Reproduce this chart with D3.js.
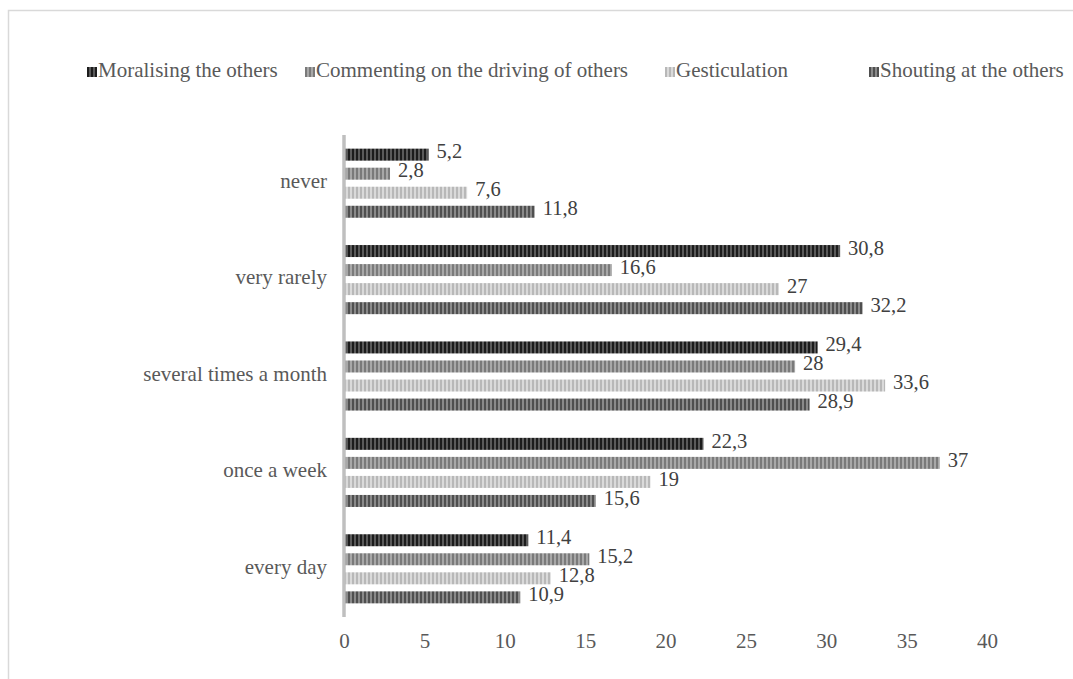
<!DOCTYPE html>
<html>
<head>
<meta charset="utf-8">
<script src="https://cdn.jsdelivr.net/npm/d3@7"></script>
<style>
  html, body { margin: 0; padding: 0; background: #fff; }
  svg { display: block; font-family: "Liberation Serif", "Times New Roman", serif; }
</style>
</head>
<body>
<svg id="chart" width="1073" height="679"></svg>
<script>
// Frequency categories, top to bottom
const categories = ["never", "very rarely", "several times a month", "once a week", "every day"];

// Series names (legend order)
const seriesNames = [
  "Moralising the others",
  "Commenting on the driving of others",
  "Gesticulation",
  "Shouting at the others"
];

// Percentages per category, one array per series
const moralising = [5.2, 30.8, 29.4, 22.3, 11.4];
const commenting = [2.8, 16.6, 28, 37, 15.2];
const gesticulation = [7.6, 27, 33.6, 19, 12.8];
const shouting = [11.8, 32.2, 28.9, 15.6, 10.9];

const xTicks = [0, 5, 10, 15, 20, 25, 30, 35, 40];

const seriesValues = [moralising, commenting, gesticulation, shouting];

// Striped fills: [stripe colour, background colour]
const stripeColors = [
  ["#1c1c1c", "#5a5a5a"],
  ["#7a7a7a", "#a8a8a8"],
  ["#b8b8b8", "#dadada"],
  ["#4f4f4f", "#8a8a8a"]
];

const svg = d3.select("#chart");

// outer chart-area border
svg.append("rect")
  .attr("x", 8.5).attr("y", 10.5)
  .attr("width", 1200).attr("height", 800)
  .attr("fill", "none").attr("stroke", "#d9d9d9").attr("stroke-width", 1.5);

const defs = svg.append("defs");
stripeColors.forEach((c, i) => {
  const p = defs.append("pattern")
    .attr("id", "stripe" + i)
    .attr("patternUnits", "userSpaceOnUse")
    .attr("width", 4).attr("height", 4);
  p.append("rect").attr("width", 4).attr("height", 4).attr("fill", c[1]);
  p.append("rect").attr("width", 2).attr("height", 4).attr("fill", c[0]);
});

const x = d3.scaleLinear().domain([0, 40]).range([344, 987]);
const y = d3.scaleBand().domain(categories).range([135, 617])
  .paddingInner(0.21).paddingOuter(0.105);
const ySub = d3.scaleBand().domain(d3.range(seriesNames.length))
  .range([0, y.bandwidth()]).paddingInner(0.37).paddingOuter(0.185);

const labelSize = 20.5;
const axisSize = 21;

// bars
const groups = svg.append("g").selectAll("g")
  .data(categories)
  .join("g")
  .attr("transform", d => `translate(0,${y(d)})`);

groups.each(function(cat, ci) {
  const g = d3.select(this);
  seriesValues.forEach((vals, si) => {
    const v = vals[ci];
    g.append("rect")
      .attr("x", x(0) + 1)
      .attr("y", ySub(si))
      .attr("width", x(v) - x(0))
      .attr("height", ySub.bandwidth())
      .attr("fill", `url(#stripe${si})`);
    g.append("text")
      .attr("x", x(v) + 9)
      .attr("y", ySub(si) + ySub.bandwidth() / 2 - 1)
      .attr("dominant-baseline", "middle")
      .attr("font-size", labelSize)
      .attr("fill", "#404040")
      .text(String(v).replace(".", ","));
  });
});

// category axis line
svg.append("line")
  .attr("x1", x(0)).attr("x2", x(0))
  .attr("y1", 135).attr("y2", 617)
  .attr("stroke", "#bfbfbf").attr("stroke-width", 3.5);

// category labels
svg.append("g").selectAll("text")
  .data(categories)
  .join("text")
  .attr("x", 327)
  .attr("y", d => y(d) + y.bandwidth() / 2)
  .attr("text-anchor", "end")
  .attr("dominant-baseline", "middle")
  .attr("font-size", axisSize)
  .attr("fill", "#595959")
  .text(d => d);

// value axis tick labels
const xAxis = d3.axisBottom(x).tickValues(xTicks).tickSize(0).tickPadding(0);
const xg = svg.append("g").attr("transform", "translate(0,643)").call(xAxis);
xg.select(".domain").remove();
xg.selectAll("text")
  .attr("dy", null)
  .attr("y", 0)
  .attr("dominant-baseline", "middle")
  .attr("font-size", axisSize)
  .attr("font-family", "Liberation Serif, Times New Roman, serif")
  .attr("fill", "#595959");

// legend
const legendX = [87, 305, 665, 869];
const legend = svg.append("g").selectAll("g")
  .data(seriesNames)
  .join("g")
  .attr("transform", (d, i) => `translate(${legendX[i]},72)`);
legend.append("rect")
  .attr("x", 0).attr("y", -5)
  .attr("width", 10).attr("height", 10)
  .attr("fill", (d, i) => `url(#stripe${i})`);
legend.append("text")
  .attr("x", 11).attr("y", 0)
  .attr("dominant-baseline", "middle")
  .attr("font-size", axisSize)
  .attr("fill", "#595959")
  .text(d => d);
</script>
</body>
</html>
